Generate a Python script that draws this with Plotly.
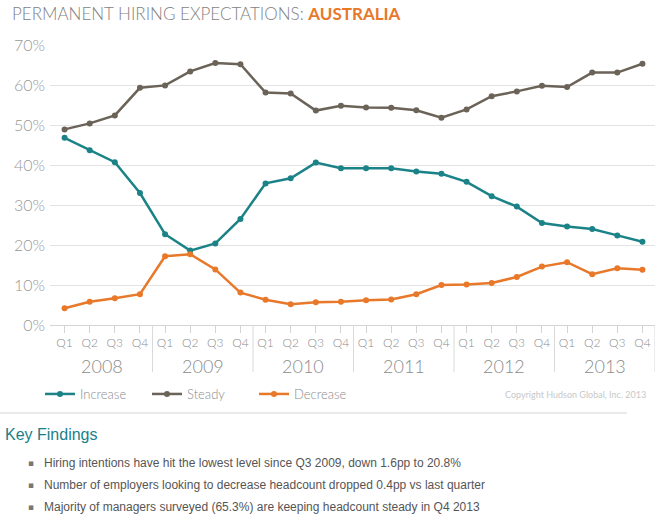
import plotly.graph_objects as go

quarters = ["Q1", "Q2", "Q3", "Q4"] * 6
years = ["2008", "2009", "2010", "2011", "2012", "2013"]

increase = [46.8, 43.7, 40.7, 33.0, 22.7, 18.6, 20.4, 26.5, 35.4, 36.7, 40.6, 39.2,
            39.2, 39.2, 38.4, 37.8, 35.8, 32.2, 29.6, 25.5, 24.6, 24.0, 22.4, 20.8]
steady = [48.9, 50.4, 52.4, 59.3, 59.9, 63.4, 65.5, 65.2, 58.1, 57.9, 53.6, 54.8,
          54.4, 54.3, 53.7, 51.8, 53.9, 57.2, 58.4, 59.8, 59.5, 63.1, 63.1, 65.3]
decrease = [4.2, 5.8, 6.7, 7.7, 17.2, 17.7, 13.9, 8.1, 6.3, 5.2, 5.7, 5.8,
            6.2, 6.4, 7.7, 10.0, 10.1, 10.5, 12.0, 14.6, 15.7, 12.7, 14.2, 13.8]

findings = [
    "Hiring intentions have hit the lowest level since Q3 2009, down 1.6pp to 20.8%",
    "Number of employers looking to decrease headcount dropped 0.4pp vs last quarter",
    "Majority of managers surveyed (65.3%) are keeping headcount steady in Q4 2013",
]

# plot area in pixels: x 50..655, y 45..325
L, R, T, B = 50, 655, 45, 325


def px(p):
    return (p - L) / (R - L)


def py(p):
    return (B - p) / (B - T)


FONT = "Lato, Open Sans, sans-serif"
TEXT_FONT = "Liberation Sans, Arial, sans-serif"
x = list(range(len(quarters)))

fig = go.Figure()
series = [("Increase", increase, "#1b8387"),
          ("Steady", steady, "#6b6358"),
          ("Decrease", decrease, "#e8782a")]
for name, vals, col in series:
    fig.add_trace(go.Scatter(
        x=x, y=vals, name=name, mode="lines+markers",
        line=dict(color=col, width=2.5),
        marker=dict(color=col, size=6),
        cliponaxis=False,
        hovertemplate="%{y:.1f}%<extra>" + name + "</extra>",
    ))

shapes = []
# year separators under the axis
for i in range(len(years)):
    xs = 4 * i + 3.5
    shapes.append(dict(type="line", xref="x", yref="paper", x0=xs, x1=xs,
                       y0=0, y1=py(372), line=dict(color="#d9d9d9", width=1)))
# divider above key findings
shapes.append(dict(type="line", xref="paper", yref="paper", x0=px(0), x1=px(627),
                   y0=py(413), y1=py(413), line=dict(color="#d4d4d4", width=1)))

annotations = []
for i, yr in enumerate(years):
    annotations.append(dict(x=4 * i + 1.5, y=py(366), xref="x", yref="paper",
                            yanchor="middle", text=yr, showarrow=False,
                            font=dict(family=FONT, size=18, color="#8c8c8c", weight=300)))
annotations.append(dict(
    x=px(10), y=py(14), xref="paper", yref="paper", xanchor="left", yanchor="middle",
    text="PERMANENT HIRING EXPECTATIONS: <b><span style='color:#e8782a'>AUSTRALIA</span></b>",
    showarrow=False, font=dict(family=FONT, size=17, color="#7f7f7f", weight=300)))
annotations.append(dict(
    x=px(648), y=py(394), xref="paper", yref="paper", xanchor="right", yanchor="middle",
    text="Copyright Hudson Global, Inc. 2013", showarrow=False,
    font=dict(family=FONT, size=9, color="#c8c8c8")))
annotations.append(dict(
    x=px(3), y=py(434), xref="paper", yref="paper", xanchor="left", yanchor="middle",
    text="Key Findings", showarrow=False,
    font=dict(family=TEXT_FONT, size=16, color="#1a7f8a")))
for k, line in enumerate(findings):
    yy = py(463 + 22 * k)
    annotations.append(dict(
        x=px(26), y=yy, xref="paper", yref="paper", xanchor="left", yanchor="middle",
        text="▪", showarrow=False,
        font=dict(family="DejaVu Sans", size=9, color="#777777")))
    annotations.append(dict(
        x=px(42), y=yy, xref="paper", yref="paper", xanchor="left", yanchor="middle",
        text=line, showarrow=False,
        font=dict(family=TEXT_FONT, size=12, color="#555555")))

fig.update_layout(
    width=655, height=518,
    margin=dict(l=L, r=655 - R, t=T, b=518 - B),
    paper_bgcolor="white", plot_bgcolor="white",
    showlegend=True,
    legend=dict(orientation="h", x=px(40), y=py(394), xanchor="left", yanchor="middle",
                font=dict(family=FONT, size=13, color="#8c8c8c", weight=300),
                itemwidth=30, entrywidth=62, traceorder="normal"),
    shapes=shapes, annotations=annotations,
    font=dict(family=FONT),
)
fig.update_xaxes(
    range=[-0.58, 23.5], tickvals=x, ticktext=quarters,
    showgrid=False, zeroline=False, showline=True, linecolor="#d4d4d4", linewidth=1,
    ticks="outside", ticklen=7, tickcolor="#d4d4d4",
    tickfont=dict(family=FONT, size=12, color="#8c8c8c", weight=300),
    fixedrange=True,
)
fig.update_yaxes(
    range=[0, 70], dtick=10, ticksuffix="%",
    showgrid=True, gridcolor="#e3e3e3", gridwidth=1, zeroline=False,
    tickfont=dict(family=FONT, size=16, color="#999999", weight=300),
    ticks="", ticklabelstandoff=4, fixedrange=True,
)

# drop the default page margin so the figure sits at the window's top-left
fig.write_html("out.html", config={"displayModeBar": False},
               post_script="document.body.style.margin='0';")
